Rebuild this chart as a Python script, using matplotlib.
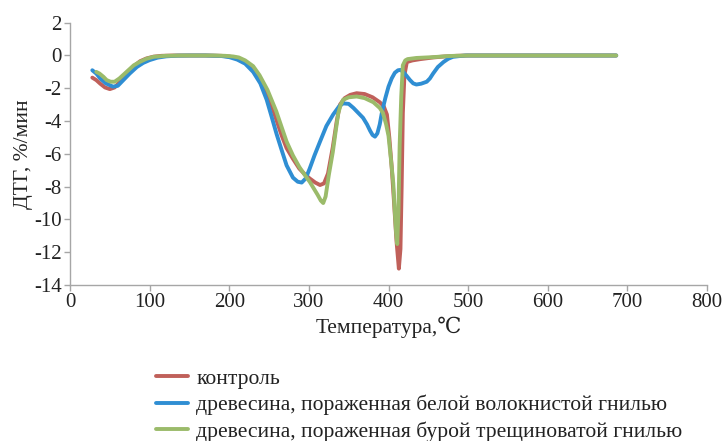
import matplotlib
matplotlib.use("Agg")
import matplotlib.pyplot as plt

plt.rcParams['font.family'] = ['Liberation Serif', 'DejaVu Serif']

# control
t_red = [28, 33, 38, 44, 50, 56, 63, 71, 79, 88, 96, 105, 115, 130, 150, 170, 190, 200, 209, 218, 228,
         238, 248, 259, 266, 272, 280, 288, 295, 301, 308, 314, 319, 324, 330, 335, 339, 345, 352, 360,
         370, 380, 389, 394, 398, 401, 404, 407, 410, 413, 415, 416.5, 418, 420, 423, 430, 440, 456,
         470, 485, 500, 550, 600, 650, 686]
v_red = [-1.35, -1.5, -1.72, -1.95, -2.05, -1.95, -1.6, -1.15, -0.7, -0.35, -0.18, -0.07, -0.02, 0, 0,
         0, -0.02, -0.06, -0.15, -0.35, -0.75, -1.4, -2.3, -3.9, -4.9, -5.65, -6.3, -6.9, -7.25, -7.5,
         -7.75, -7.9, -7.8, -7.2, -5.6, -4.0, -3.0, -2.6, -2.4, -2.3, -2.35, -2.55, -2.85, -3.1, -3.6,
         -5.0, -6.8, -9.0, -11.3, -13.0, -11.8, -8.0, -3.5, -1.2, -0.4, -0.3, -0.22, -0.12, -0.06, -0.02,
         0, 0, 0, 0, 0]

# white rot
t_blue = [28, 33, 38, 45, 54, 60, 67, 75, 84, 92, 100, 110, 121, 135, 150, 170, 190, 200, 210, 220,
          230, 239, 247, 253, 259.5, 266, 272, 280, 286, 291, 296, 301, 307, 314, 322, 330.5, 338, 343,
          350, 356, 362, 368, 373, 377, 380, 383, 386, 389, 392, 396, 400, 404, 408, 412, 415, 418.5,
          422, 427, 431, 435, 441, 448, 452, 456, 462, 469, 475, 481, 490, 497, 550, 600, 650, 686]
v_blue = [-0.9, -1.1, -1.4, -1.7, -1.9, -1.85, -1.5, -1.1, -0.7, -0.45, -0.28, -0.13, -0.05, -0.01, 0,
          0, -0.03, -0.1, -0.25, -0.5, -1.0, -1.7, -2.7, -3.7, -4.8, -5.8, -6.7, -7.45, -7.7, -7.75, -7.5,
          -6.9, -6.1, -5.25, -4.3, -3.6, -3.1, -2.92, -2.95, -3.2, -3.5, -3.8, -4.2, -4.6, -4.85, -4.95,
          -4.75, -4.2, -3.4, -2.6, -1.9, -1.4, -1.05, -0.9, -0.88, -1.0, -1.2, -1.5, -1.7, -1.77, -1.72,
          -1.6, -1.4, -1.1, -0.7, -0.4, -0.2, -0.08, -0.03, 0, 0, 0, 0, 0]

# brown rot
t_green = [33, 37, 42, 46, 51, 56, 62, 71, 80, 88, 96, 105, 120, 140, 160, 180, 195, 205, 212, 220,
           230, 238, 248, 259, 266, 272, 280, 288, 295, 301, 306, 311, 315, 318, 321, 325, 330, 334, 337,
           340, 343, 350, 360, 370, 381, 389, 393, 397, 400, 403, 406, 408, 409.5, 411, 412.5, 414, 416,
           418, 421, 424, 435, 456, 477, 500, 550, 600, 650, 686]
v_green = [-1.0, -1.1, -1.3, -1.5, -1.6, -1.6, -1.4, -1.0, -0.6, -0.38, -0.2, -0.08, -0.02, 0, 0, 0,
           -0.02, -0.06, -0.12, -0.3, -0.65, -1.2, -2.1, -3.4, -4.4, -5.25, -6.1, -6.8, -7.3, -7.7, -8.1,
           -8.5, -8.85, -9.0, -8.6, -7.3, -5.9, -4.5, -3.5, -3.0, -2.7, -2.55, -2.5, -2.6, -2.85, -3.2,
           -3.5, -4.2, -4.9, -6.3, -7.8, -9.6, -10.8, -11.5, -9.5, -5.5, -2.5, -0.6, -0.3, -0.22, -0.15,
           -0.1, -0.03, 0, 0, 0, 0, 0]

labels = ["контроль",
          "древесина, пораженная белой волокнистой гнилью",
          "древесина, пораженная бурой трещиноватой гнилью"]
colors = ["#C0605A", "#2F8ED3", "#9BBB6A"]

x_ticks = [0, 100, 200, 300, 400, 500, 600, 700, 800]
y_ticks = [2, 0, -2, -4, -6, -8, -10, -12, -14]

fig = plt.figure(figsize=(7.27, 4.41), dpi=100)
ax = fig.add_axes([0.0963, 0.3537, 0.8762, 0.5948])

lw = 2.8
ax.plot(t_red, v_red, color=colors[0], lw=lw, label=labels[0], solid_capstyle='round', solid_joinstyle='round')
ax.plot(t_blue, v_blue, color=colors[1], lw=lw, label=labels[1], solid_capstyle='round', solid_joinstyle='round')
ax.plot(t_green, v_green, color=colors[2], lw=lw, label=labels[2], solid_capstyle='round', solid_joinstyle='round')

ax.set_xlim(0, 800)
ax.set_ylim(-14, 2)
ax.set_xticks(x_ticks)
ax.set_yticks(y_ticks)
ax.set_yticklabels([str(v) for v in y_ticks])

for s in ['top', 'right']:
    ax.spines[s].set_visible(False)
for s in ['left', 'bottom']:
    ax.spines[s].set_color('#A6A6A6')
    ax.spines[s].set_linewidth(1.0)
ax.tick_params(axis='both', colors='#A6A6A6', labelcolor='#222222', labelsize=15, length=4, width=1, direction='out', pad=2)

ax.set_xlabel("Температура,℃", fontsize=15.5, color='#222222', labelpad=3)
ax.set_ylabel("ДТГ, %/мин", fontsize=15.5, color='#222222', labelpad=1)

leg = fig.legend(loc='upper left', bbox_to_anchor=(0.203, 0.184), frameon=False, fontsize=15.6,
                 handlelength=1.45, handletextpad=0.4, labelspacing=0.28, borderaxespad=0)
for t in leg.get_texts():
    t.set_color('#222222')

fig.savefig("out.png", dpi=100)
